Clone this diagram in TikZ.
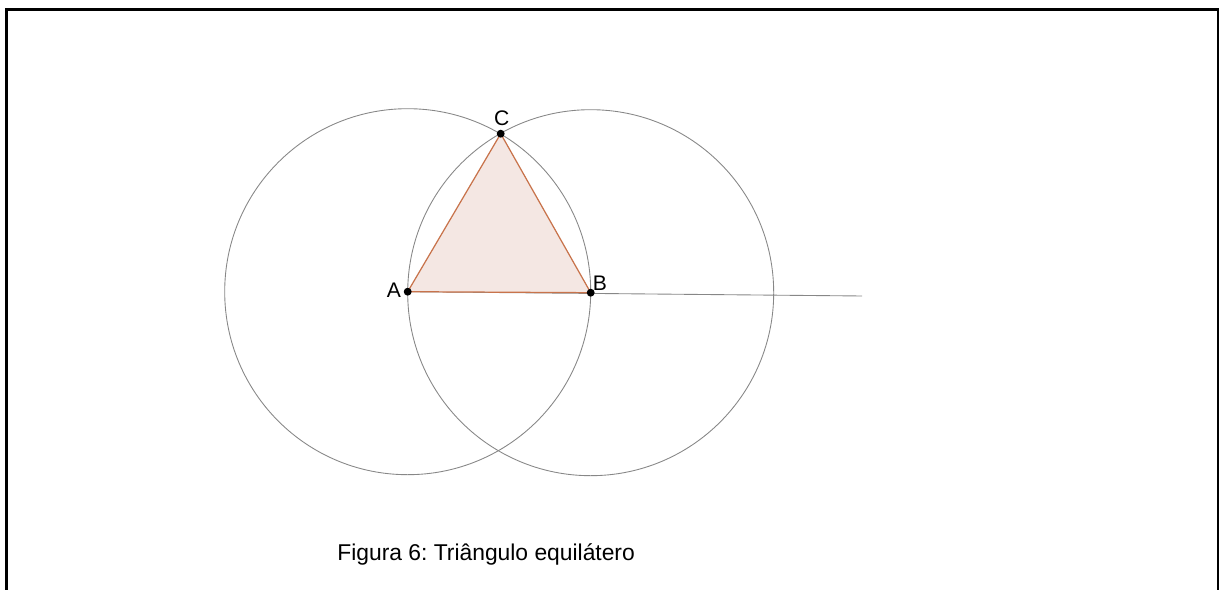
\documentclass[tikz,border=0pt]{standalone}
\usepackage{fontspec}
\setmainfont{Liberation Sans}
\usepackage{tikz}
\usetikzlibrary{positioning}

\definecolor{arete}{RGB}{200,115,75}
\definecolor{remplissage}{RGB}{244,231,227}
\definecolor{trait}{RGB}{135,135,135}

\frenchspacing

\begin{document}
\begin{tikzpicture}[x=0.02cm, y=-0.02cm,
cercle/.style={draw=trait, line width=0.5pt},
triangle/.style={draw=arete, fill=remplissage, line width=0.7pt},
point/.style={circle, fill=black, inner sep=0pt, minimum size=4.5pt},
etiquette/.style={font=\fontsize{12}{14}\selectfont, inner sep=1pt}
]
\useasboundingbox (0,0) rectangle (1221,590);

% Cadre
\draw[line width=1.3pt] (6.5,590) -- (6.5,9.5) -- (1217.7,9.5) -- (1217.7,590);

% Points
\coordinate (A) at (407.7,291.7);
\coordinate (B) at (590.7,292.7);
\coordinate (C) at (500.7,133.7);
\coordinate (fin) at (862,296);

% Cercles
\draw[cercle] (A) circle (183);
\draw[cercle] (B) circle (183);

% Demi-droite
\draw[cercle] (A) -- (fin);

% Triangle
\filldraw[triangle] (A) -- (B) -- (C) -- cycle;

\node[point] (pA) at (A) {};
\node[point] (pB) at (B) {};
\node[point] (pC) at (C) {};

% Etiquettes
\node[etiquette] (lA) at (394,290.7) {A};
\node[etiquette] (lB) at (600,283) {B};
\node[etiquette] (lC) at (501.7,118) {C};

% Legende
\node[anchor=base west, font=\fontsize{13}{15}\selectfont, inner sep=0pt] (legende) at (337,561) {Figura 6: Triângulo equilátero};

\end{tikzpicture}
\end{document}
